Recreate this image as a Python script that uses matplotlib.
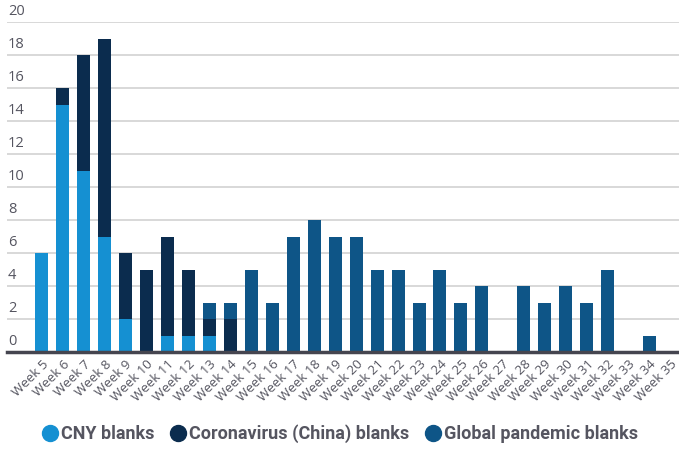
import numpy as np
import matplotlib
matplotlib.use("Agg")
import matplotlib.pyplot as plt
from matplotlib.lines import Line2D
import matplotlib.transforms as mtransforms

weeks = [f"Week {w}" for w in range(5, 36)]
cny = [6, 15, 11, 7, 2, 0, 1, 1, 1, 0] + [0] * 21
corona = [0, 1, 7, 12, 4, 5, 6, 4, 1, 2] + [0] * 21
glob = [0, 0, 0, 0, 0, 0, 0, 0, 1, 1,
        5, 3, 7, 8, 7, 7, 5, 5, 3, 5, 3, 4, 0, 4, 3, 4, 3, 5, 0, 1, 0]
yticks = [0, 2, 4, 6, 8, 10, 12, 14, 16, 18, 20]

c_cny = "#1590d2"
c_cor = "#0b2c4e"
c_glob = "#0e5587"
txt = "#555560"

fig = plt.figure(figsize=(6.79, 4.53), dpi=100)
ax = fig.add_axes([7 / 679, 101 / 453, 672 / 679, 330 / 453])

x = np.arange(len(weeks))
cny = np.array(cny)
corona = np.array(corona)
glob = np.array(glob)
w = 0.62
ax.bar(x, cny, w, color=c_cny, zorder=3)
ax.bar(x, corona, w, bottom=cny, color=c_cor, zorder=3)
ax.bar(x, glob, w, bottom=cny + corona, color=c_glob, zorder=3)

ax.set_xlim(-1.65, 30.4)
ax.set_ylim(0, 20)
ax.set_yticks(yticks)
ax.set_yticklabels([])
ax.tick_params(axis="y", length=0)
ax.grid(axis="y", color="#d6d6d6", linewidth=1.3, zorder=0)

# y labels sit just above their gridlines, inside the plot
off = mtransforms.offset_copy(ax.get_yaxis_transform(), fig=fig, x=1, y=3, units="dots")
for v in yticks:
    ax.text(0, v, str(v), transform=off, ha="left", va="bottom",
            fontsize=10.5, color=txt, family="Open Sans")

ax.set_xticks(x)
ax.set_xticklabels(weeks, rotation=45, ha="right", rotation_mode="anchor",
                   fontsize=9.5, color=txt, family="Open Sans")
ax.tick_params(axis="x", length=0, pad=4)

for s in ["top", "right", "left"]:
    ax.spines[s].set_visible(False)
ax.spines["bottom"].set_color("#45454f")
ax.spines["bottom"].set_linewidth(2.5)
ax.spines["bottom"].set_zorder(4)

handles = [Line2D([], [], marker="o", ls="", markersize=11.5, color=c)
           for c in (c_cny, c_cor, c_glob)]
labels = ["CNY blanks", "Coronavirus (China) blanks", "Global pandemic blanks"]
leg = fig.legend(handles, labels, loc="center", bbox_to_anchor=(0.5, 19 / 453),
                 ncol=3, frameon=False, handletextpad=0.1, columnspacing=0.8,
                 handlelength=1.0,
                 prop={"family": "Roboto", "weight": "bold", "size": 13})
for t in leg.get_texts():
    t.set_color(txt)

fig.savefig("out.png", dpi=100)
